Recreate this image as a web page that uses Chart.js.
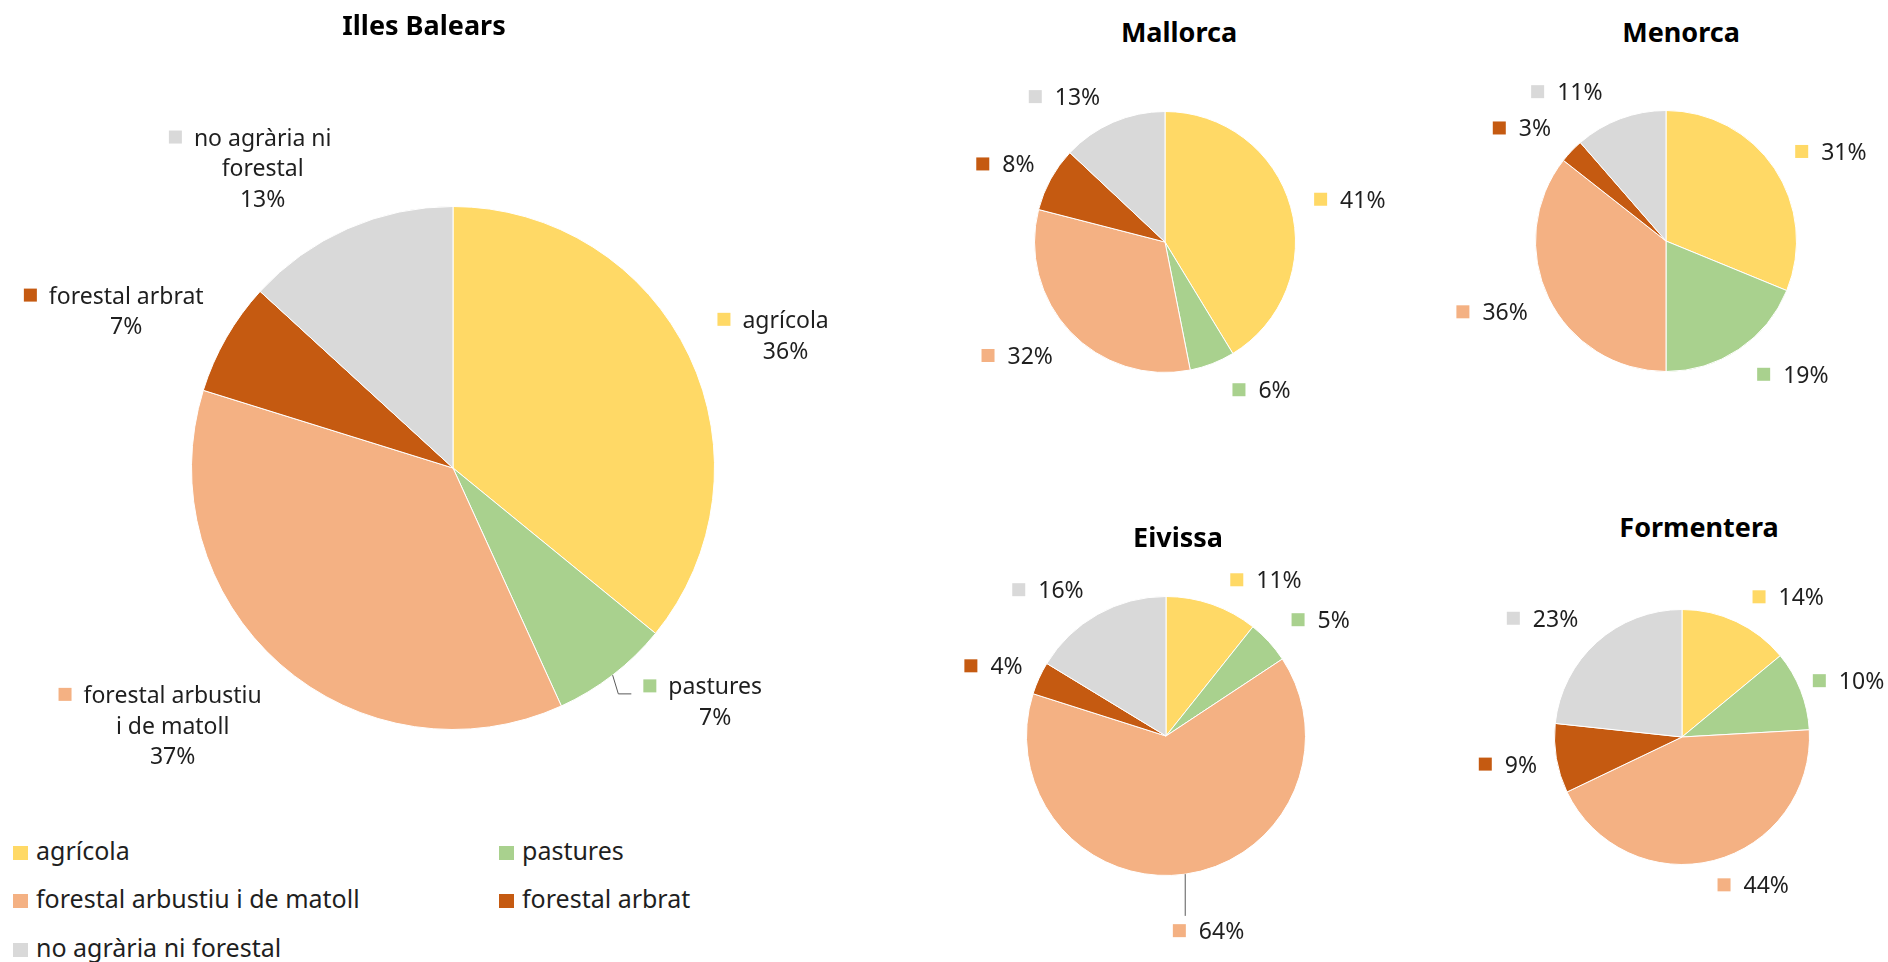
<!DOCTYPE html>
<html>
<head>
<meta charset="utf-8">
<script src="https://cdn.jsdelivr.net/npm/chart.js@4.4.1/dist/chart.umd.min.js"></script>
<style>
  html, body { margin: 0; padding: 0; background: #ffffff; }
  body { width: 1888px; height: 962px; position: relative; overflow: hidden; font-family: "Noto Sans", sans-serif; }
  canvas.pie { position: absolute; }
  .title { position: absolute; font-weight: bold; font-size: 27px; line-height: 27px; color: #000; white-space: nowrap; transform: translateX(-50%); }
  .leg { position: absolute; font-size: 25px; line-height: 25px; color: #1f1f1f; white-space: nowrap; }
  .leg .sw { position: absolute; width: 15px; height: 14px; }
</style>
</head>
<body>
<canvas id="cBalears" class="pie"></canvas>
<canvas id="cMallorca" class="pie"></canvas>
<canvas id="cMenorca" class="pie"></canvas>
<canvas id="cEivissa" class="pie"></canvas>
<canvas id="cFormentera" class="pie"></canvas>
<div id="legend"></div>
<script>
// ---------- data ----------
const categories = ['agrícola', 'pastures', 'forestal arbustiu i de matoll', 'forestal arbrat', 'no agrària ni forestal'];
const sliceColors = ['#FFD966', '#A9D18E', '#F4B183', '#C55A11', '#D9D9D9'];
const illesBalears = [35.9, 7.3, 36.6, 7.0, 13.2];
const mallorca     = [41.3, 5.6, 32.1, 8.0, 13.0];
const menorca      = [31.2, 18.8, 35.6, 3.0, 11.4];
const eivissa      = [10.7, 5.0, 64.2, 3.8, 16.3];
const formentera   = [14.0, 10.1, 43.8, 8.8, 23.3];
const chartTitles  = ['Illes Balears', 'Mallorca', 'Menorca', 'Eivissa', 'Formentera'];

// ---------- layout (positions / styles) ----------
const FONT = '"Noto Sans", sans-serif';
const TEXT_COLOR = '#1f1f1f';

function wrapText(ctx, text, maxW, firstIndent) {
  const words = text.split(' ');
  const lines = [];
  let cur = '';
  for (const w of words) {
    const test = cur ? cur + ' ' + w : w;
    const indent = lines.length === 0 ? firstIndent : 0;
    if (cur && ctx.measureText(test).width + indent > maxW) {
      lines.push(cur);
      cur = w;
    } else {
      cur = test;
    }
  }
  if (cur) lines.push(cur);
  return lines;
}

const pieLabels = {
  id: 'pieLabels',
  afterDatasetsDraw(chart, args, o) {
    const ctx = chart.ctx;
    const meta = chart.getDatasetMeta(0);
    const ds = chart.data.datasets[0];
    const total = ds.data.reduce((a, b) => a + b, 0);
    const fs = o.fontSize, lh = o.lineHeight, ms = o.markerSize, mg = o.markerGap;
    ctx.save();
    ctx.font = fs + 'px ' + FONT;
    meta.data.forEach((arc, i) => {
      const p = arc.getProps(['x', 'y', 'startAngle', 'endAngle', 'outerRadius'], true);
      const pct = Math.round(ds.data[i] / total * 100) + '%';
      const lines = o.showName ? wrapText(ctx, chart.data.labels[i], o.wrapWidth, ms + mg).concat([pct]) : [pct];
      const widths = lines.map(l => ctx.measureText(l).width);
      const tw = Math.max(...widths);
      const hang = Math.max(0, ms + mg - (tw - widths[0]) / 2);
      const w = tw + hang, h = lines.length * lh;
      const nudge = (o.nudge && o.nudge[i]) || [0, 0, false];
      const midRaw = (p.startAngle + p.endAngle) / 2;
      const mid = midRaw + nudge[0] * Math.PI / 180;
      const c = Math.cos(mid), s = Math.sin(mid);
      const ext = Math.abs(c) * w / 2 + Math.abs(s) * h / 2;
      const d = p.outerRadius + o.gap + ext + nudge[1];
      const bx = p.x + c * d, by = p.y + s * d;
      const boxLeft = bx - w / 2, boxTop = by - h / 2;
      const textCx = boxLeft + hang + tw / 2;
      ctx.fillStyle = TEXT_COLOR;
      ctx.textAlign = 'center';
      ctx.textBaseline = 'alphabetic';
      let firstBase = 0;
      lines.forEach((l, k) => {
        const base = boxTop + k * lh + lh / 2 + 0.36 * fs;
        if (k === 0) firstBase = base;
        ctx.fillText(l, textCx, base);
      });
      const mx = textCx - widths[0] / 2 - mg - ms;
      ctx.fillStyle = ds.backgroundColor[i];
      ctx.fillRect(mx, firstBase - 2 - ms, ms, ms);
      if (nudge[2]) {
        const ax = p.x + Math.cos(midRaw) * p.outerRadius;
        const ay = p.y + Math.sin(midRaw) * p.outerRadius;
        ctx.strokeStyle = '#595959';
        ctx.lineWidth = 1;
        ctx.beginPath();
        ctx.moveTo(ax, ay);
        if (s > 0 && Math.abs(c) < 0.4) {
          ctx.lineTo(ax, boxTop);
        } else {
          const ty = firstBase - 2 - ms / 2 + 8;
          const tx = mx - 12;
          ctx.lineTo(tx - 13, ty);
          ctx.lineTo(tx, ty);
        }
        ctx.stroke();
      }
    });
    ctx.restore();
  }
};

function makePie(id, values, box, lab) {
  const cv = document.getElementById(id);
  cv.width = box.width; cv.height = box.height;
  cv.style.left = box.left + 'px'; cv.style.top = box.top + 'px';
  cv.style.width = box.width + 'px'; cv.style.height = box.height + 'px';
  return new Chart(cv, {
    type: 'pie',
    data: {
      labels: categories,
      datasets: [{ data: values, backgroundColor: sliceColors, borderColor: '#ffffff', borderWidth: 1 }]
    },
    options: {
      responsive: false,
      animation: false,
      layout: {
        padding: {
          left: box.cx - box.r - box.left,
          right: box.left + box.width - box.cx - box.r,
          top: box.cy - box.r - box.top,
          bottom: box.top + box.height - box.cy - box.r
        }
      },
      plugins: {
        legend: { display: false },
        tooltip: { enabled: false },
        title: { display: false },
        pieLabels: lab
      }
    },
    plugins: [pieLabels]
  });
}

const bigLab = { fontSize: 23, lineHeight: 30.7, markerSize: 13, markerGap: 12, gap: 22, showName: true, wrapWidth: 210,
  nudge: [[2.8, 0], [-9.3, -6, true], [7.3, -0.4], [-5.0, -4], [-10.3, -5]] };
const smallLab = (nudge) => ({ fontSize: 23, lineHeight: 30, markerSize: 13, markerGap: 13, gap: 22, showName: false, nudge });

makePie('cBalears', illesBalears, { left: 0, top: 40, width: 910, height: 790, cx: 453, cy: 468, r: 262 }, bigLab);
makePie('cMallorca', mallorca, { left: 940, top: 50, width: 480, height: 420, cx: 1165, cy: 242, r: 131 },
  smallLab([[2.7, -1], [-11.9, -4.3], [5.8, -3.5], [-2.8, -7.7], [-11.3, -8.6]]));
makePie('cMenorca', menorca, { left: 1420, top: 50, width: 468, height: 420, cx: 1666, cy: 241, r: 131 },
  smallLab([[5.4, -3.5], [-9.7, -3.8], [3.7, -3.4], [-5.5, -1.7], [-13.1, -5.7]]));
makePie('cEivissa', eivissa, { left: 940, top: 545, width: 480, height: 417, cx: 1166, cy: 736, r: 140 },
  smallLab([[13.4, -8.1], [5.6, -0.4], [-4.4, 15.7, true], [-2.4, -8], [-9.6, -7.8]]));
makePie('cFormentera', formentera, { left: 1420, top: 545, width: 468, height: 417, cx: 1682, cy: 737, r: 128 },
  smallLab([[12.0, -7.3], [2.8, -12.4], [-11.3, -14.2], [0.8, -4.4], [-7.7, -3.4]]));

// ---------- titles ----------
const titleBase = [[424, 34.5], [1179, 42.3], [1681, 42.3], [1178, 546.7], [1699, 536.7]];
chartTitles.forEach((t, i) => {
  const d = document.createElement('div');
  d.className = 'title';
  d.textContent = t;
  d.style.left = titleBase[i][0] + 'px';
  d.style.top = (titleBase[i][1] - 24) + 'px';
  document.body.appendChild(d);
});

// ---------- legend (for Illes Balears) ----------
const legend = document.getElementById('legend');
categories.forEach((cat, i) => {
  const col = i % 2, row = Math.floor(i / 2);
  const baseline = 860 + row * 48.5;
  const item = document.createElement('div');
  item.className = 'leg';
  item.style.left = (13 + col * 486) + 'px';
  item.style.top = (baseline - 22.2) + 'px';
  const sw = document.createElement('span');
  sw.className = 'sw';
  sw.style.background = sliceColors[i];
  sw.style.left = '0px';
  sw.style.top = (22.2 - 14) + 'px';
  const tx = document.createElement('span');
  tx.textContent = cat;
  tx.style.marginLeft = '23px';
  item.appendChild(sw);
  item.appendChild(tx);
  legend.appendChild(item);
});
</script>
</body>
</html>
